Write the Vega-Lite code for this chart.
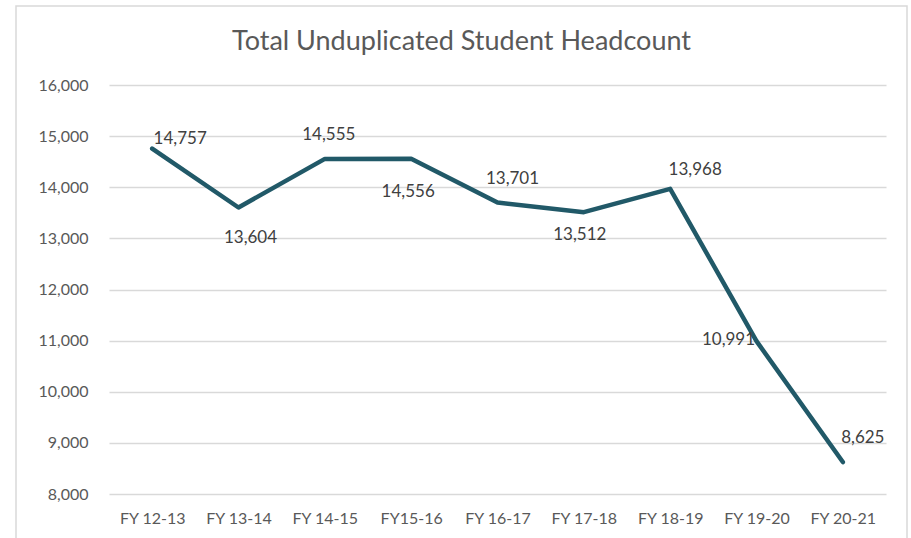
{
  "$schema": "https://vega.github.io/schema/vega-lite/v6.json",
  "width": 891,
  "height": 540,
  "autosize": "none",
  "padding": {"left": 16, "top": 6, "right": 4, "bottom": 0},
  "background": "white",
  "config": {
    "view": {"stroke": "#d9d9d9", "strokeWidth": 1.5},
    "font": "Lato"
  },
  "title": {
    "text": "Total Unduplicated Student Headcount",
    "anchor": "middle",
    "frame": "group",
    "orient": "top",
    "baseline": "alphabetic",
    "offset": -46,
    "dy": 25,
    "fontSize": 27,
    "fontWeight": "normal",
    "color": "#595959",
    "font": "Lato"
  },
  "data": {
    "values": [
      {"fy": "FY 12-13", "headcount": 14757},
      {"fy": "FY 13-14", "headcount": 13604},
      {"fy": "FY 14-15", "headcount": 14555},
      {"fy": "FY15-16", "headcount": 14556},
      {"fy": "FY 16-17", "headcount": 13701},
      {"fy": "FY 17-18", "headcount": 13512},
      {"fy": "FY 18-19", "headcount": 13968},
      {"fy": "FY 19-20", "headcount": 10991},
      {"fy": "FY 20-21", "headcount": 8625}
    ]
  },
  "encoding": {
    "x": {
      "field": "fy",
      "type": "ordinal",
      "sort": null,
      "title": null,
      "scale": {"type": "point", "range": [93, 870], "padding": 0.5},
      "axis": {
        "orient": "bottom",
        "offset": -52,
        "domain": false,
        "ticks": false,
        "tickSize": 0,
        "grid": false,
        "labelAngle": 0,
        "labelPadding": 16,
        "labelFontSize": 16,
        "labelColor": "#595959",
        "labelFont": "Lato"
      }
    },
    "y": {
      "field": "headcount",
      "type": "quantitative",
      "title": null,
      "scale": {"domain": [8000, 16000], "range": [488, 79], "nice": false, "zero": false},
      "axis": {
        "orient": "left",
        "offset": -93,
        "values": [8000, 9000, 10000, 11000, 12000, 13000, 14000, 15000, 16000],
        "format": ",.0f",
        "domain": false,
        "ticks": false,
        "tickSize": 0,
        "grid": true,
        "gridColor": "#d9d9d9",
        "gridWidth": 1.3,
        "labelPadding": 21,
        "labelFontSize": 16,
        "labelColor": "#595959",
        "labelFont": "Lato"
      }
    }
  },
  "layer": [
    {
      "mark": {"type": "line", "color": "#215968", "strokeWidth": 4.5, "strokeJoin": "round", "strokeCap": "round"}
    },
    {
      "transform": [{"filter": "datum.fy == 'FY 12-13'"}],
      "mark": {"type": "text", "dx": 28, "dy": -10, "fontSize": 17, "color": "#404040", "baseline": "middle", "align": "center", "font": "Lato"},
      "encoding": {"text": {"field": "headcount", "type": "quantitative", "format": ",.0f"}}
    },
    {
      "transform": [{"filter": "datum.fy == 'FY 13-14'"}],
      "mark": {"type": "text", "dx": 12, "dy": 31, "fontSize": 17, "color": "#404040", "baseline": "middle", "align": "center", "font": "Lato"},
      "encoding": {"text": {"field": "headcount", "type": "quantitative", "format": ",.0f"}}
    },
    {
      "transform": [{"filter": "datum.fy == 'FY 14-15'"}],
      "mark": {"type": "text", "dx": 4, "dy": -24, "fontSize": 17, "color": "#404040", "baseline": "middle", "align": "center", "font": "Lato"},
      "encoding": {"text": {"field": "headcount", "type": "quantitative", "format": ",.0f"}}
    },
    {
      "transform": [{"filter": "datum.fy == 'FY15-16'"}],
      "mark": {"type": "text", "dx": -3, "dy": 33, "fontSize": 17, "color": "#404040", "baseline": "middle", "align": "center", "font": "Lato"},
      "encoding": {"text": {"field": "headcount", "type": "quantitative", "format": ",.0f"}}
    },
    {
      "transform": [{"filter": "datum.fy == 'FY 16-17'"}],
      "mark": {"type": "text", "dx": 15, "dy": -24, "fontSize": 17, "color": "#404040", "baseline": "middle", "align": "center", "font": "Lato"},
      "encoding": {"text": {"field": "headcount", "type": "quantitative", "format": ",.0f"}}
    },
    {
      "transform": [{"filter": "datum.fy == 'FY 17-18'"}],
      "mark": {"type": "text", "dx": -4, "dy": 23, "fontSize": 17, "color": "#404040", "baseline": "middle", "align": "center", "font": "Lato"},
      "encoding": {"text": {"field": "headcount", "type": "quantitative", "format": ",.0f"}}
    },
    {
      "transform": [{"filter": "datum.fy == 'FY 18-19'"}],
      "mark": {"type": "text", "dx": 25, "dy": -19, "fontSize": 17, "color": "#404040", "baseline": "middle", "align": "center", "font": "Lato"},
      "encoding": {"text": {"field": "headcount", "type": "quantitative", "format": ",.0f"}}
    },
    {
      "transform": [{"filter": "datum.fy == 'FY 19-20'"}],
      "mark": {"type": "text", "dx": -28, "dy": -1, "fontSize": 17, "color": "#404040", "baseline": "middle", "align": "center", "font": "Lato"},
      "encoding": {"text": {"field": "headcount", "type": "quantitative", "format": ",.0f"}}
    },
    {
      "transform": [{"filter": "datum.fy == 'FY 20-21'"}],
      "mark": {"type": "text", "dx": 20, "dy": -24, "fontSize": 17, "color": "#404040", "baseline": "middle", "align": "center", "font": "Lato"},
      "encoding": {"text": {"field": "headcount", "type": "quantitative", "format": ",.0f"}}
    }
  ]
}
